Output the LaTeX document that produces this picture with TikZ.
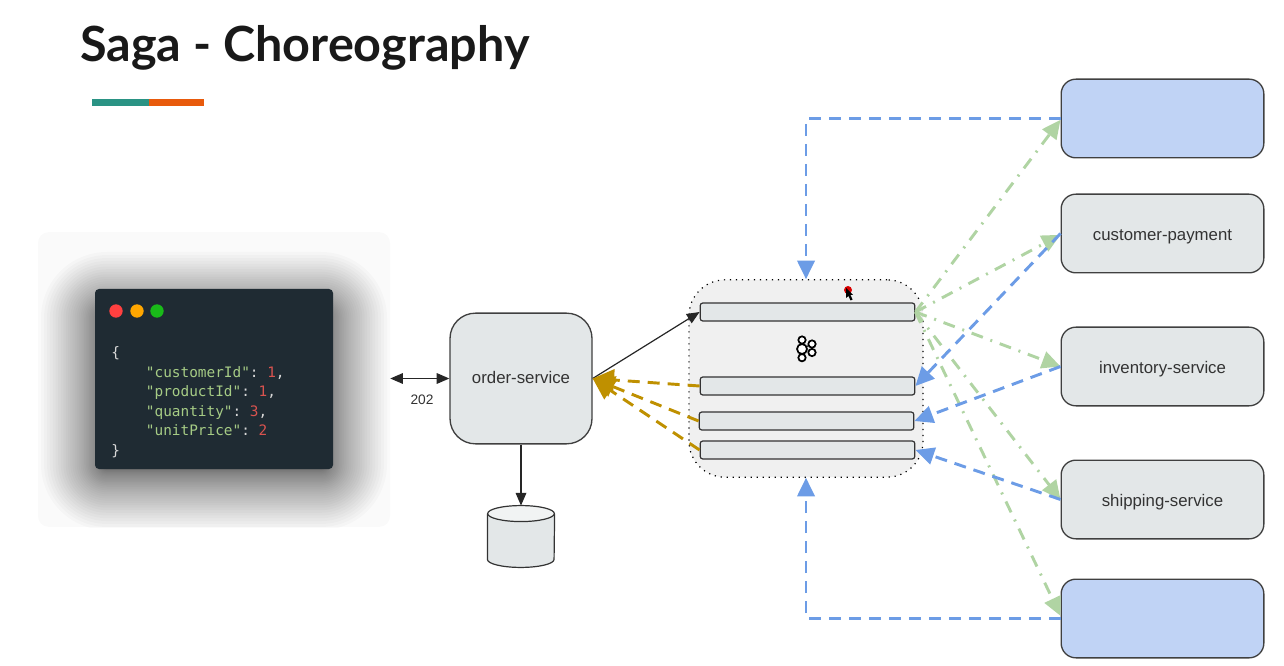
\documentclass[tikz,border=0pt]{standalone}
\usepackage{fontspec}
\setmainfont{Liberation Sans}
\setmonofont{DejaVu Sans Mono}
\newfontfamily\titlefont{Lato}
\usetikzlibrary{arrows.meta}
\definecolor{boxgrey}{HTML}{E3E7E8}
\definecolor{boxblue}{HTML}{C0D3F5}
\definecolor{edgeblue}{HTML}{6C9CE6}
\definecolor{edgegreen}{HTML}{B0D4A3}
\definecolor{edgegold}{HTML}{BF9000}
\definecolor{cardbg}{HTML}{1F2B33}
\definecolor{codegreen}{HTML}{A6CC85}
\definecolor{codered}{HTML}{D9534F}
\definecolor{barteal}{HTML}{2A9384}
\definecolor{barorange}{HTML}{E85A0C}
\tikzset{
	svcbox/.style={draw=black!75,line width=1pt,fill=boxgrey,rounded corners=11pt,minimum width=152pt,minimum height=59pt,inner sep=0pt,text height=13pt,text depth=2.2pt,font=\fontsize{12.6}{15}\selectfont,text=black!80},
	topicbox/.style={draw=black!80,line width=0.9pt,fill=boxgrey,rounded corners=2pt,minimum width=161pt,minimum height=13.5pt,inner sep=0pt},
	flowblue/.style={edgeblue,line width=2.2pt,dash pattern=on 9pt off 6pt,-{Triangle[length=14pt,width=13pt]}},
	flowgreen/.style={edgegreen,line width=2.2pt,dash pattern=on 9pt off 6pt on 1.5pt off 6pt,-{Triangle[length=14pt,width=13pt]}},
	flowgold/.style={edgegold,line width=2.2pt,dash pattern=on 9pt off 6pt,-{Triangle[length=16pt,width=16pt]}},
	flowblack/.style={black!85,line width=0.9pt,-{Triangle[length=9.5pt,width=8pt]}},
	kafkadot/.style={circle,draw=black,line width=1.3pt,fill=white,inner sep=0pt},
	lightdot/.style={circle,inner sep=0pt,minimum size=10pt}
}
\begin{document}
\begin{tikzpicture}[x=0.75pt,y=-0.75pt]
	\useasboundingbox (0,0) rectangle (1284,666);
	% title
	\node[anchor=base west,inner sep=0pt,text=black!90] (title) at (80,62) {\titlefont\bfseries\fontsize{36.4}{42}\selectfont Saga - Choreography};
	\fill[barteal] (92,99) rectangle (149,106);
	\fill[barorange] (149,99) rectangle (204,106);
	% code card and its shadow
	\node[fill=black!2,minimum width=264pt,minimum height=221pt,inner sep=0pt,rounded corners=8pt] (codebg) at (214,379.5) {};
	\begin{scope}
		\clip (38,232) rectangle (390,527);
		\foreach \s in {1,...,40}{
			\pgfmathsetmacro{\e}{62*((41-\s)/40)^2}
			\pgfmathsetmacro{\r}{0.75*\e+3}
			\fill[black,opacity=0.018,rounded corners=\r pt] ({103-\e},{314-\e}) rectangle ({325+\e},{468+\e});
		}
	\end{scope}
	\node[fill=cardbg,minimum width=178.5pt,minimum height=135pt,inner sep=0pt,rounded corners=3pt] (card) at (214,379) {};
	\node[lightdot,fill=red!75!white] (lightred) at (116,311) {};
	\node[lightdot,fill=orange!70!yellow] (lightorange) at (137,311) {};
	\node[lightdot,fill=green!70!black!90] (lightgreen) at (157,311) {};
	\node[anchor=north west,inner sep=0pt,align=left,text=black!15,font=\ttfamily\fontsize{10.8}{14.6}\selectfont] (code) at (111,346.5) {%
		\{\\
		\hphantom{0000}\textcolor{codegreen}{"customerId"}: \textcolor{codered}{1},\\
		\hphantom{0000}\textcolor{codegreen}{"productId"}: \textcolor{codered}{1},\\
		\hphantom{0000}\textcolor{codegreen}{"quantity"}: \textcolor{codered}{3},\\
		\hphantom{0000}\textcolor{codegreen}{"unitPrice"}: \textcolor{codered}{2}\\
		\}};
	% services
	\node[svcbox,rounded corners=19pt,minimum width=106.5pt,minimum height=98pt,text height=10.5pt,text depth=2.5pt] (order) at (521,378.5) {order-service};
	\node[inner sep=0pt,minimum width=50pt,minimum height=46pt] (db) at (521,536.5) {};
	\draw[draw=black!80,line width=0.9pt,fill=boxgrey] ([yshift=-6pt]db.north west)--([yshift=6pt]db.south west) arc[start angle=180,end angle=360,x radius=25pt,y radius=6pt]--([yshift=-6pt]db.north east);
	\draw[draw=black!80,line width=0.9pt,fill=boxgrey!50!white] ([yshift=-6pt]db.north) ellipse[x radius=25pt,y radius=6pt];
	\node[svcbox,fill=boxblue] (paysvc) at (1162.5,118.5) {};
	\node[svcbox] (custsvc) at (1162.5,233.5) {customer-payment};
	\node[svcbox] (invsvc) at (1162.5,366.5) {inventory-service};
	\node[svcbox] (shipsvc) at (1162.5,499.5) {shipping-service};
	\node[svcbox,fill=boxblue] (notifsvc) at (1162.5,618.5) {};
	% broker
	\node[draw=black,dash pattern=on 0.9pt off 3.6pt,line width=0.9pt,fill=black!6,rounded corners=27pt,minimum width=175.5pt,minimum height=148pt,inner sep=0pt] (broker) at (806,378.5) {};
	\node[topicbox] (topicone) at (807.5,312) {};
	\node[topicbox] (topictwo) at (807.5,386) {};
	\node[topicbox] (topicthree) at (806.5,421) {};
	\node[topicbox] (topicfour) at (807.5,450) {};
	% kafka logo
	\node[kafkadot,minimum size=7.5pt] (kmid) at (802,349) {};
	\node[kafkadot,minimum size=5.5pt] (ktop) at (802,340) {};
	\node[kafkadot,minimum size=5.5pt] (kbot) at (802,357.7) {};
	\node[kafkadot,minimum size=5.5pt] (kup) at (812,344) {};
	\node[kafkadot,minimum size=5.5pt] (kdown) at (812,352.5) {};
	\draw[line width=1.2pt] (kmid)--(ktop) (kmid)--(kbot) (kmid)--(kup) (kmid)--(kdown);
	% pointer
	\fill[red!85!black] (848,290) circle (3pt);
	\fill[black] (846,288)--(846,298)--(848.5,296)--(850.5,300.5)--(852.5,299.5)--(850.5,295)--(853,295)--cycle;
	% black flows
	\draw[flowblack,{Triangle[length=9.5pt,width=8pt]}-{Triangle[length=9.5pt,width=8pt]}] (order.west -| codebg.east)--(order.west);
	\node[font=\fontsize{10.3}{12}\selectfont,text=black!80,inner sep=0pt] (code202) at (422,400) {202};
	\draw[flowblack] (order.east)--(topicone.west);
	\draw[flowblack] (order.south)--(db.north);
	% gold flows
	\draw[flowgold] (topictwo.west)--(order.east);
	\draw[flowgold] (topicthree.west)--(order.east);
	\draw[flowgold] (topicfour.west)--(order.east);
	% green flows
	\draw[flowgreen] (topicone.east)--([yshift=-1pt]paysvc.west);
	\draw[flowgreen] (topicone.east)--([yshift=-1pt]custsvc.west);
	\draw[flowgreen] (topicone.east)--(invsvc.west);
	\draw[flowgreen] (topicone.east)--(shipsvc.west);
	\draw[flowgreen] (topicone.east)--([yshift=2pt]notifsvc.west);
	% blue flows
	\draw[flowblue] (paysvc.west) -| (broker.north);
	\draw[flowblue] (notifsvc.west) -| (broker.south);
	\draw[flowblue] (custsvc.west)--(topictwo.east);
	\draw[flowblue] (invsvc.west)--(topicthree.east);
	\draw[flowblue] (shipsvc.west)--(topicfour.east);
\end{tikzpicture}
\end{document}
